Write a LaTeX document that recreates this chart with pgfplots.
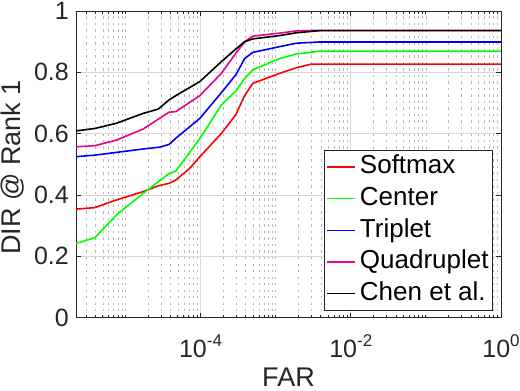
\documentclass[border=0pt]{standalone}
\usepackage{fontspec}
\setmainfont{Liberation Sans}
\usepackage{pgfplots}
\pgfplotsset{compat=1.18}
\newcommand{\sexp}[1]{10\raisebox{11pt}{\fontsize{17}{17}\selectfont #1}}
\begin{document}
\begin{tikzpicture}
\begin{axis}[
  scale only axis, width=425pt, height=306.7pt,
  xmode=log, xmin=2.2e-6, xmax=1, ymin=0, ymax=1,
  xtick={1e-4,1e-2,1},
  xticklabels={\sexp{-4},\sexp{-2},\sexp{0}},
  minor xtick={3e-6,4e-6,5e-6,6e-6,7e-6,8e-6,9e-6,1e-5,2e-5,3e-5,4e-5,5e-5,6e-5,7e-5,8e-5,9e-5,2e-4,3e-4,4e-4,5e-4,6e-4,7e-4,8e-4,9e-4,1e-3,2e-3,3e-3,4e-3,5e-3,6e-3,7e-3,8e-3,9e-3,2e-2,3e-2,4e-2,5e-2,6e-2,7e-2,8e-2,9e-2,1e-1,2e-1,3e-1,4e-1,5e-1,6e-1,7e-1,8e-1,9e-1},
  ytick={0,0.2,0.4,0.6,0.8,1}, yticklabels={0,0.2,0.4,0.6,0.8,1},
  xmajorgrids, ymajorgrids, xminorgrids,
  major grid style={draw=black!15, line width=0.7pt},
  minor grid style={draw=black!28, dash pattern=on 2.2pt off 4.3pt, line width=0.55pt},
  axis line style={draw=black!85, line width=0.9pt},
  tick style={draw=black!85, line width=0.8pt},
  major tick length=5pt, minor tick length=3pt,
  tick align=inside,
  tick label style={font=\fontsize{25}{29}\selectfont, text=black!85},
  xticklabel style={anchor=base, yshift=-40pt},
  yticklabel style={inner ysep=0pt, inner xsep=7pt},
  xlabel={FAR}, ylabel={DIR @ Rank 1},
  label style={font=\fontsize{27}{31}\selectfont, text=black!85},
  xlabel style={at={(axis description cs:0.5,-0.2235)}, anchor=base, inner sep=0pt, text depth=0pt},
  ylabel style={at={(axis description cs:-0.15,0.49)}, anchor=center, inner sep=0pt},
  legend style={at={(1,0)}, anchor=south east, xshift=-8pt, yshift=7pt,
    draw=black!85, line width=0.8pt, fill=white,
    font=\fontsize{26}{30}\selectfont, row sep=3.7pt, column sep=2pt,
    inner xsep=2pt, inner ysep=2.6pt,
    nodes={inner sep=2pt, text height=19pt, text depth=5pt}},
  legend cell align=left,
  legend image code/.code={\draw[#1, line width=1.6pt] (0pt,0pt) -- (28pt,0pt);},
  every axis plot/.append style={line width=1.6pt},
]
\coordinate (sw) at (rel axis cs:0,0);
\coordinate (ne) at (rel axis cs:1,1);
\addplot[red] coordinates {
(2.2e-6,0.354) (3.93e-6,0.359) (7.6e-6,0.384) (1.72e-5,0.411) (2.73e-5,0.430)
(3.82e-5,0.438) (4.69e-5,0.449) (7.2e-5,0.487) (9.8e-5,0.525) (1.90e-4,0.601)
(2.95e-4,0.662) (3.88e-4,0.725) (4.96e-4,0.764) (1.14e-3,0.797) (1.89e-3,0.815)
(3.0e-3,0.827) (1,0.827)};
\addlegendentry{Softmax}
\addplot[green] coordinates {
(2.2e-6,0.242) (3.93e-6,0.261) (7.6e-6,0.335) (1.72e-5,0.405) (2.73e-5,0.443)
(3.82e-5,0.470) (4.69e-5,0.478) (9.8e-5,0.584) (1.90e-4,0.694) (2.95e-4,0.739)
(3.88e-4,0.780) (4.96e-4,0.808) (1.14e-3,0.845) (1.89e-3,0.860) (3.87e-3,0.869)
(1,0.869)};
\addlegendentry{Center}
\addplot[blue] coordinates {
(2.2e-6,0.525) (3.93e-6,0.530) (7.6e-6,0.539) (1.72e-5,0.550) (2.85e-5,0.556)
(3.82e-5,0.565) (4.69e-5,0.585) (9.8e-5,0.650) (1.90e-4,0.734) (2.95e-4,0.792)
(3.88e-4,0.845) (4.96e-4,0.865) (1.14e-3,0.884) (1.89e-3,0.895) (3.87e-3,0.899)
(1,0.899)};
\addlegendentry{Triplet}
\addplot[magenta] coordinates {
(2.2e-6,0.557) (3.93e-6,0.561) (7.6e-6,0.579) (1.72e-5,0.615) (2.85e-5,0.650)
(3.82e-5,0.670) (4.69e-5,0.672) (9.8e-5,0.724) (1.90e-4,0.797) (2.95e-4,0.862)
(3.88e-4,0.900) (4.96e-4,0.918) (1.14e-3,0.928) (1.89e-3,0.935) (3.87e-3,0.937)
(1,0.937)};
\addlegendentry{Quadruplet}
\addplot[black] coordinates {
(2.2e-6,0.609) (3.93e-6,0.617) (7.6e-6,0.634) (1.72e-5,0.666) (2.73e-5,0.680)
(3.82e-5,0.710) (4.69e-5,0.724) (9.8e-5,0.770) (1.90e-4,0.835) (2.95e-4,0.876)
(3.88e-4,0.900) (4.96e-4,0.909) (1.14e-3,0.920) (1.89e-3,0.929) (3.87e-3,0.936)
(1,0.936)};
\addlegendentry{Chen et al.}
\end{axis}
\pgfresetboundingbox
\path[use as bounding box] ([xshift=-76pt,yshift=-73.3pt]sw) rectangle ([xshift=19pt,yshift=11pt]ne);
\end{tikzpicture}
\end{document}
